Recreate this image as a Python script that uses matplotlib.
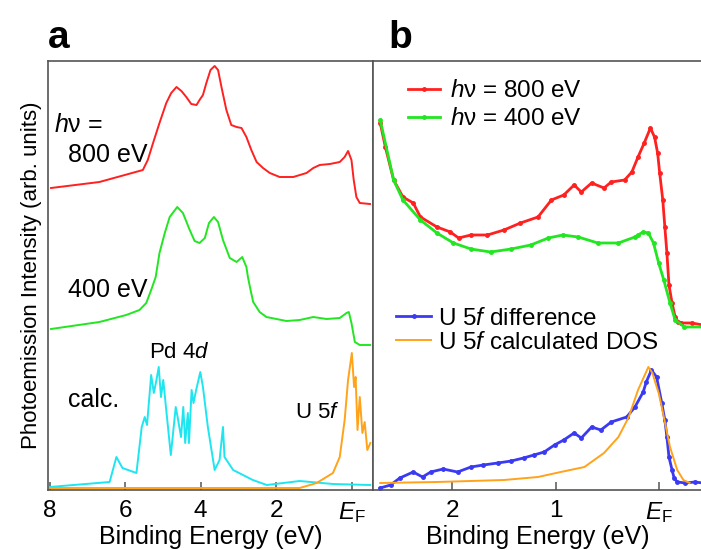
import matplotlib
matplotlib.use('Agg')
import matplotlib.pyplot as plt

plt.rcParams['font.family'] = ['Liberation Sans', 'DejaVu Sans']
plt.rcParams['mathtext.fontset'] = 'custom'
plt.rcParams['mathtext.rm'] = 'Liberation Sans'
plt.rcParams['mathtext.it'] = 'Liberation Sans:italic'

# ---- panel a: valence band spectra (binding energy in eV, arb. intensity) ----
a800_e = [7.96, 6.68, 5.53, 5.40, 5.26, 5.09, 4.91, 4.78, 4.64, 4.51, 4.38,
          4.25, 4.11, 4.03, 3.94, 3.85, 3.74, 3.63, 3.54, 3.45, 3.32, 3.19,
          3.05, 2.92, 2.79, 2.66, 2.52, 2.35, 2.17, 1.91, 1.55, 1.20, 1.02,
          0.85, 0.58, 0.32, 0.19, 0.10, 0.01, -0.05, -0.12, -0.21, -0.48]
a800_i = [302, 308, 320, 330, 347, 367, 387, 397, 403, 399, 393,
          386, 385, 390, 395, 407, 420, 424, 420, 403, 380, 365,
          363, 362, 353, 340, 328, 322, 317, 313, 313, 317, 322,
          325, 326, 328, 333, 339, 330, 310, 293, 287, 286]

a400_e = [7.96, 6.68, 5.97, 5.62, 5.44, 5.31, 5.19, 5.09, 4.95, 4.82, 4.62,
          4.47, 4.29, 4.16, 4.03, 3.89, 3.78, 3.65, 3.54, 3.41, 3.23, 3.05,
          2.90, 2.79, 2.75, 2.68, 2.61, 2.44, 2.26, 1.73, 1.38, 1.02, 0.67,
          0.32, 0.14, 0.08, 0.01, -0.08, -0.21, -0.48]
a400_i = [161, 168, 175, 180, 187, 200, 213, 237, 257, 273, 283,
          277, 260, 249, 247, 252, 267, 273, 268, 250, 232, 228,
          233, 223, 213, 200, 188, 178, 173, 169, 170, 173, 171,
          172, 177, 178, 167, 148, 145, 145]

pd_e = [8.0, 6.41, 6.23, 6.07, 5.7, 5.56, 5.48, 5.42, 5.31, 5.24, 5.17, 5.11,
        5.05, 4.99, 4.93, 4.79, 4.66, 4.61, 4.52, 4.46, 4.41, 4.34, 4.31, 4.24,
        4.19, 4.12, 4.01, 3.94, 3.81, 3.63, 3.5, 3.41, 3.37, 3.14, 2.62, 2.25,
        1.38, 0.5, -0.48]
pd_i = [3, 8, 33, 22, 17, 63, 73, 65, 115, 97, 110, 123,
        93, 110, 87, 35, 83, 73, 53, 83, 47, 77, 47, 100,
        87, 100, 118, 103, 63, 20, 30, 63, 33, 20, 10, 5,
        9, 6, 5]

u5f_a_e = [8.0, 2.0, 1.38, 0.93, 0.5, 0.32, 0.19, 0.10, 0.0, -0.06, -0.10,
           -0.15, -0.21, -0.28, -0.34, -0.41, -0.49]
u5f_a_i = [2, 2, 2, 7, 17, 33, 70, 110, 137, 103, 113,
           60, 93, 57, 68, 40, 47]

# ---- panel b: near-EF spectra ----
b800_e = [2.70, 2.65, 2.57, 2.48, 2.38, 2.31, 2.15, 2.02, 1.94, 1.82, 1.66,
          1.50, 1.34, 1.17, 1.04, 0.92, 0.82, 0.75, 0.65, 0.53, 0.46, 0.33,
          0.26, 0.20, 0.14, 0.08, 0.04, 0.01, -0.01, -0.04, -0.06, -0.08,
          -0.10, -0.13, -0.16, -0.19, -0.22, -0.32, -0.43]
b800_i = [367, 343, 310, 293, 287, 273, 263, 258, 252, 255, 255,
          260, 267, 273, 290, 295, 305, 298, 307, 302, 308, 310,
          318, 333, 347, 362, 353, 337, 317, 290, 263, 237,
          205, 187, 173, 168, 167, 167, 165]

b400_e = [2.70, 2.57, 2.48, 2.31, 2.15, 1.99, 1.82, 1.63, 1.43, 1.24, 1.07,
          0.93, 0.78, 0.59, 0.39, 0.23, 0.20, 0.15, 0.10, 0.05, 0.0, -0.05,
          -0.11, -0.16, -0.25, -0.43]
b400_i = [370, 310, 290, 270, 257, 247, 241, 238, 241, 245, 252,
          255, 253, 247, 247, 253, 255, 258, 257, 247, 227, 210,
          187, 170, 163, 163]

diff_e = [2.70, 2.60, 2.51, 2.38, 2.29, 2.21, 2.09, 1.95, 1.82, 1.70, 1.56,
          1.43, 1.31, 1.21, 1.11, 1.01, 0.92, 0.82, 0.75, 0.65, 0.56, 0.46,
          0.31, 0.23, 0.15, 0.12, 0.07, 0.02, -0.03, -0.06, -0.08, -0.10,
          -0.13, -0.15, -0.18, -0.26, -0.35, -0.43]
diff_i = [2, 5, 12, 18, 13, 18, 21, 18, 23, 25, 27,
          29, 32, 35, 38, 45, 50, 57, 52, 63, 60, 68,
          73, 83, 98, 108, 120, 113, 87, 70, 53, 33,
          20, 12, 8, 7, 8, 7]

dos_e = [2.70, 2.15, 1.50, 1.17, 0.95, 0.72, 0.53, 0.39, 0.29, 0.20, 0.10,
         0.06, 0.04, 0.0, -0.03, -0.11, -0.18, -0.24, -0.30]
dos_i = [7, 8, 10, 13, 18, 23, 37, 53, 73, 100, 123,
         117, 110, 97, 83, 43, 20, 10, 7]

RED = '#ff2020'
GREEN = '#22e622'
CYAN = '#1ee6f0'
ORANGE = '#ffa31a'
BLUE = '#3a3af2'
SPINE = '#555555'

fig = plt.figure(figsize=(7.01, 5.5), dpi=100)
ax_a = fig.add_axes([48 / 701, 60 / 550, 325 / 701, 429 / 550])
ax_b = fig.add_axes([373 / 701, 60 / 550, 330 / 701, 429 / 550])

# panel a
ax_a.plot(a800_e, a800_i, color=RED, lw=1.4)
ax_a.plot(a400_e, a400_i, color=GREEN, lw=1.4)
ax_a.plot(pd_e, pd_i, color=CYAN, lw=1.4)
ax_a.plot(u5f_a_e, u5f_a_i, color=ORANGE, lw=1.4)
ax_a.set_xlim(8.04, -0.56)
ax_a.set_ylim(0, 429)
ax_a.set_xticks([8, 6, 4, 2, 0])
ax_a.set_xticklabels(['8', '6', '4', '2', r'$E_\mathrm{F}$'])

ax_a.text(7.87, 365, r'$h$ν =', fontsize=18, ha='left', va='center')
ax_a.text(7.52, 335, '800 eV', fontsize=18, ha='left', va='center')
ax_a.text(7.52, 200, '400 eV', fontsize=18, ha='left', va='center')
ax_a.text(7.52, 90, 'calc.', fontsize=18, ha='left', va='center')
ax_a.text(5.38, 137, r'Pd 4$d$', fontsize=16, ha='left', va='center')
ax_a.text(1.51, 78, r'U 5$f$', fontsize=16, ha='left', va='center')
ax_a.set_ylabel('Photoemission Intensity (arb. units)', fontsize=16, labelpad=4)

# panel b
l1, = ax_b.plot(b800_e, b800_i, color=RED, lw=2, marker='.', ms=5)
l2, = ax_b.plot(b400_e, b400_i, color=GREEN, lw=2, marker='.', ms=5)
l3, = ax_b.plot(diff_e, diff_i, color=BLUE, lw=2, marker='.', ms=5)
l4, = ax_b.plot(dos_e, dos_i, color=ORANGE, lw=1.4)
ax_b.set_xlim(2.77, -0.43)
ax_b.set_ylim(0, 429)
ax_b.set_xticks([2, 1, 0])
ax_b.set_xticklabels(['2', '1', r'$E_\mathrm{F}$'])

leg1 = ax_b.legend([l1, l2], [r'$h$ν = 800 eV', r'$h$ν = 400 eV'],
                   loc='upper left', bbox_to_anchor=(0.078, 0.978), frameon=False,
                   fontsize=17.5, handlelength=1.3, labelspacing=0.25,
                   handletextpad=0.4, borderaxespad=0)
ax_b.add_artist(leg1)
ax_b.legend([l3, l4], [r'U 5$f$ difference', r'U 5$f$ calculated DOS'],
            loc='upper left', bbox_to_anchor=(0.04, 0.448), frameon=False,
            fontsize=17.5, handlelength=1.45, labelspacing=0.1,
            handletextpad=0.3, borderaxespad=0)

for ax in (ax_a, ax_b):
    for s in ax.spines.values():
        s.set_color(SPINE)
        s.set_linewidth(1.2)
    ax.tick_params(axis='x', direction='in', length=6, width=1.1, color=SPINE,
                   labelsize=17.5, pad=7)
    ax.tick_params(axis='y', left=False, labelleft=False)
    ax.set_xlabel('Binding Energy (eV)', fontsize=18, labelpad=0)
ax_b.spines['right'].set_visible(False)

fig.text(48 / 701, 1 - 38 / 550, 'a', fontsize=28, fontweight='bold', ha='left', va='center')
fig.text(388 / 701, 1 - 38 / 550, 'b', fontsize=28, fontweight='bold', ha='left', va='center')

fig.savefig('out.png', dpi=100)
